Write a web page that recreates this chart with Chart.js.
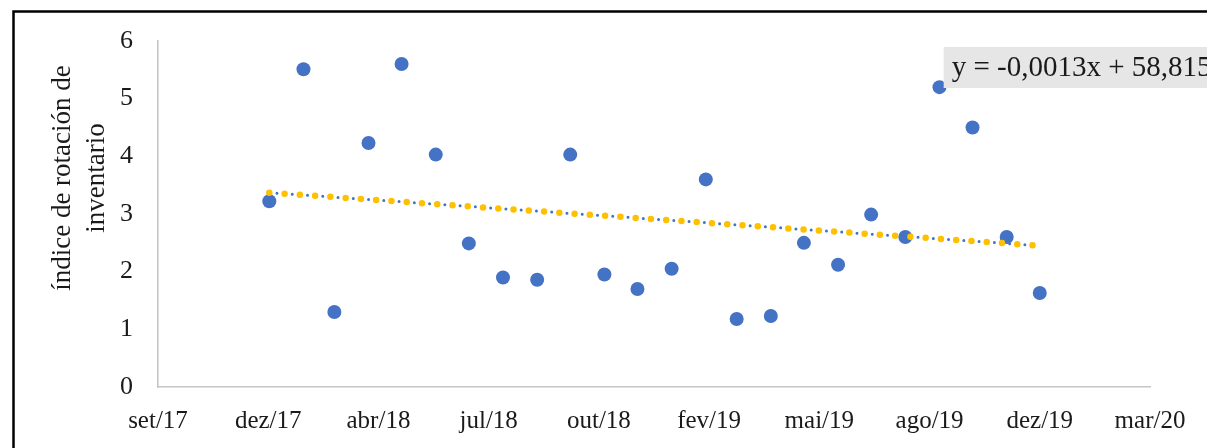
<!DOCTYPE html>
<html>
<head>
<meta charset="utf-8">
<script src="https://cdn.jsdelivr.net/npm/chart.js@4/dist/chart.umd.min.js"></script>
<style>
html,body{margin:0;padding:0;background:#fff;}
#wrap{position:relative;width:1207px;height:448px;}
</style>
</head>
<body>
<div id="wrap"><canvas id="c" width="1207" height="448"></canvas></div>
<script>
// ---- data ----
const months = ['2018-01','2018-02','2018-03','2018-04','2018-05','2018-06','2018-07','2018-08','2018-09','2018-10','2018-11','2018-12',
                '2019-01','2019-02','2019-03','2019-04','2019-05','2019-06','2019-07','2019-08','2019-09','2019-10','2019-11','2019-12'];
const rotation = [3.22, 5.51, 1.30, 4.23, 5.60, 4.03, 2.49, 1.90, 1.86, 4.03, 1.95, 1.70,
                  2.05, 3.60, 1.18, 1.23, 2.50, 2.12, 2.99, 2.60, 5.20, 4.50, 2.60, 1.63];
const trendMonths = ['2018-01','2019-12'];
const trendValues = [3.37, 2.45];
const xTickValues = [43000,43100,43200,43300,43400,43500,43600,43700,43800,43900];
const xTickLabels = ['set/17','dez/17','abr/18','jul/18','out/18','fev/19','mai/19','ago/19','dez/19','mar/20'];
const yTitleLines = ['índice de rotación de','inventario'];
const equationText = 'y = -0,0013x + 58,815';

// Excel-style serial day numbers
function serial(ym){const [y,m]=ym.split('-').map(Number);return Math.round((Date.UTC(y,m-1,1)-Date.UTC(1899,11,30))/86400000);}

const pts = months.map((m,i)=>({x:serial(m),y:rotation[i]}));
const trendPts = trendMonths.map((m,i)=>({x:serial(m),y:trendValues[i]}));

const FONT = 'Liberation Serif, Times New Roman, serif';

const deco = {
  id:'deco',
  afterDraw(chart){
    const ctx = chart.ctx, a = chart.chartArea;
    ctx.save();
    // outer frame
    ctx.strokeStyle='#000'; ctx.lineWidth=2.5;
    ctx.beginPath(); ctx.moveTo(13.5,460); ctx.lineTo(13.5,11.5); ctx.lineTo(1220,11.5); ctx.stroke();
    // y-axis title
    ctx.fillStyle='#1a1a1a'; ctx.font='27px '+FONT; ctx.textAlign='center'; ctx.textBaseline='middle';
    const cy = a.top + (a.bottom-a.top)*0.396;
    yTitleLines.forEach((t,i)=>{
      ctx.save(); ctx.translate(63+i*34, cy); ctx.rotate(-Math.PI/2); ctx.fillText(t,0,0); ctx.restore();
    });
    // trendline equation box
    const bx = a.left + (a.right-a.left)*0.792, by = a.top+6;
    ctx.fillStyle='#e6e6e6'; ctx.fillRect(bx, by, 1207-bx, 41);
    ctx.fillStyle='#1a1a1a'; ctx.textAlign='left'; ctx.font='29px '+FONT;
    ctx.fillText(equationText, bx+8, by+21);
    ctx.restore();
  }
};

new Chart(document.getElementById('c'),{
  type:'scatter',
  data:{datasets:[
    {label:'trend-yellow',type:'line',data:trendPts,order:0,borderColor:'#FFC000',borderWidth:6.5,borderDash:[0,15.3],borderCapStyle:'round',pointRadius:0,fill:false,tension:0},
    {label:'trend-blue',type:'line',data:trendPts,order:1,borderColor:'#4472C4',borderWidth:3,borderDash:[0,7.65],borderCapStyle:'round',pointRadius:0,fill:false,tension:0},
    {label:'rotación',data:pts,order:2,backgroundColor:'#4472C4',borderColor:'#4472C4',pointRadius:7,pointHoverRadius:7,borderWidth:0}
  ]},
  options:{
    responsive:false,animation:false,
    layout:{padding:{left:0,top:41,right:57,bottom:0}},
    plugins:{legend:{display:false},tooltip:{enabled:false}},
    scales:{
      x:{type:'linear',min:xTickValues[0],max:xTickValues[xTickValues.length-1],
        afterBuildTicks(s){s.ticks = xTickValues.map(v=>({value:v}));},
        afterFit(s){s.height=61;},
        grid:{display:false,drawTicks:false},
        border:{display:true,color:'#c6c6c6',width:1.6},
        ticks:{autoSkip:false,maxRotation:0,padding:19,color:'#1a1a1a',font:{family:FONT,size:25},
          callback(v){const i=xTickValues.indexOf(v);return i>=0?xTickLabels[i]:'';}}
      },
      y:{min:0,max:6,
        afterFit(s){s.width=158;},
        grid:{display:false,drawTicks:false},
        border:{display:true,color:'#c6c6c6',width:1.6},
        ticks:{stepSize:1,padding:25,color:'#1a1a1a',font:{family:FONT,size:26}}
      }
    }
  },
  plugins:[deco]
});
</script>
</body>
</html>
